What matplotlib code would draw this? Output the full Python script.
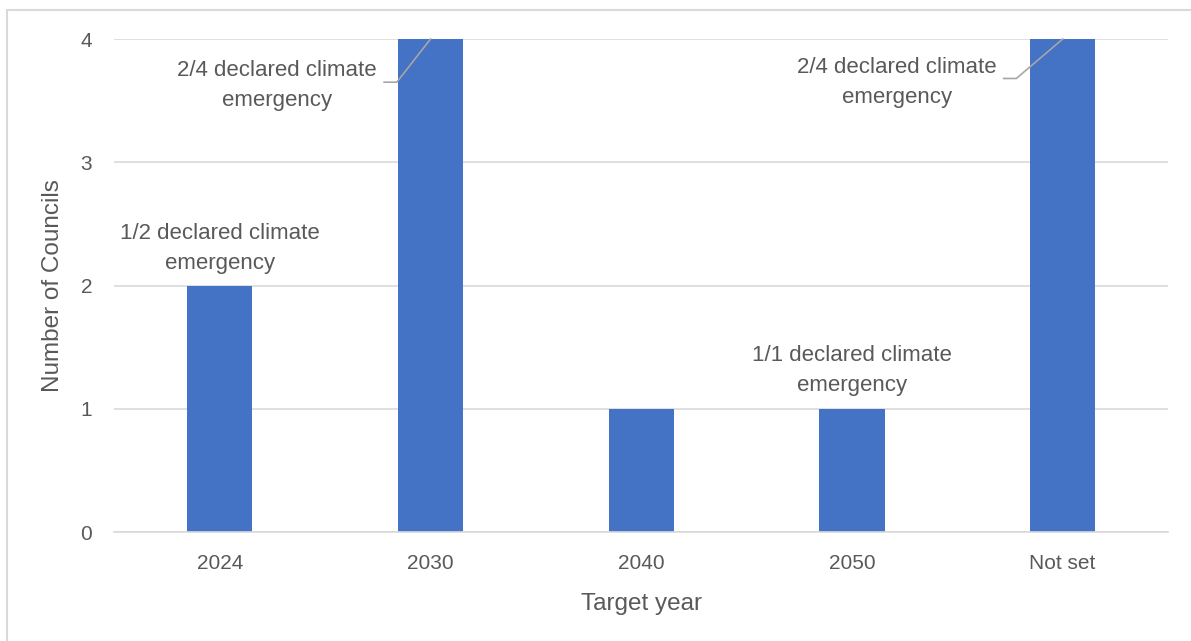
import matplotlib.pyplot as plt
from matplotlib.patches import Rectangle

categories = ['2024', '2030', '2040', '2050', 'Not set']
councils = [2, 4, 1, 1, 4]
y_ticks = [0, 1, 2, 3, 4]

# label text, index of bar, text centre (x, y) in data units, leader elbow x (or None)
notes = [
    ('1/2 declared climate\nemergency', 0, 0.0, 2.30, None),
    ('2/4 declared climate\nemergency', 1, 0.27, 3.62, (0.78, 0.84)),
    ('1/1 declared climate\nemergency', 3, 3.0, 1.31, None),
    ('2/4 declared climate\nemergency', 4, 3.215, 3.65, (3.72, 3.78)),
]

TEXT = '#595959'
BAR = '#4472C4'
GRID = '#D9D9D9'
FONT = 'Liberation Sans'


def main():
    fig = plt.figure(figsize=(11.91, 6.41), dpi=100)
    fig.patches.append(Rectangle((0.006, -0.1), 1.2, 1.085, transform=fig.transFigure,
                                 fill=False, edgecolor=GRID, linewidth=1.5))

    ax = fig.add_axes([0.0961, 0.170, 0.8846, 0.7691])
    x = list(range(len(categories)))
    ax.bar(x, councils, width=0.31, color=BAR, zorder=2)

    ax.set_xlim(-0.5, len(categories) - 0.5)
    ax.set_ylim(0, 4)
    ax.set_yticks(y_ticks)
    ax.set_xticks(x)
    ax.set_xticklabels(categories)
    ax.tick_params(axis='both', length=0, labelsize=15, labelcolor=TEXT)
    ax.tick_params(axis='x', pad=16)
    ax.tick_params(axis='y', pad=16)
    for lab in ax.get_xticklabels() + ax.get_yticklabels():
        lab.set_fontfamily(FONT)
    ax.grid(axis='y', color=GRID, linewidth=1.2, zorder=0)
    for s in ['top', 'right', 'left']:
        ax.spines[s].set_visible(False)
    ax.spines['bottom'].set_color(GRID)
    ax.spines['bottom'].set_linewidth(1.2)

    ax.set_xlabel('Target year', fontsize=17.5, color=TEXT, family=FONT)
    ax.set_ylabel('Number of Councils', fontsize=17.5, color=TEXT, family=FONT)
    ax.xaxis.set_label_coords(0.5, -0.124)
    ax.yaxis.set_label_coords(-0.048, 0.5)

    for text, i, tx, ty, elbow in notes:
        ax.text(tx, ty, text, ha='center', va='center', fontsize=16, color=TEXT,
                family=FONT, linespacing=1.55, zorder=3)
        if elbow is not None:
            ax.plot([elbow[0], elbow[1], x[i]], [ty + 0.03, ty + 0.03, councils[i]],
                    color='#A6A6A6', linewidth=1.2, zorder=3, clip_on=False)

    fig.savefig('out.png', dpi=100)


if __name__ == '__main__':
    main()
